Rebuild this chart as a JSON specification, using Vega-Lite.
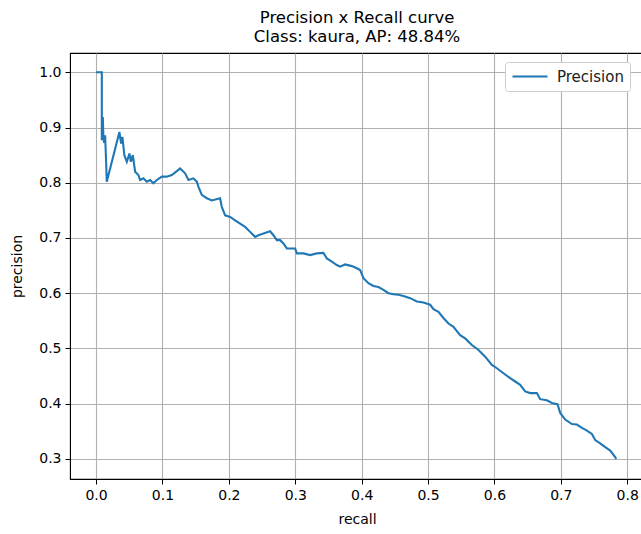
{
  "$schema": "https://vega.github.io/schema/vega-lite/v6.json",
  "autosize": "none",
  "width": 574,
  "height": 426,
  "padding": {"left": 70, "top": 53, "right": 0, "bottom": 55},
  "background": "white",
  "config": {
    "font": "DejaVu Sans",
    "view": {"stroke": "black", "strokeWidth": 1.1},
    "axis": {
      "domainColor": "black",
      "tickColor": "black",
      "tickSize": 5,
      "labelColor": "black",
      "labelFontSize": 14,
      "titleFontSize": 14,
      "titleFontWeight": "normal",
      "titleColor": "black",
      "gridColor": "#b0b0b0",
      "gridWidth": 1.1,
      "labelPadding": 4
    }
  },
  "title": {
    "text": ["Precision x Recall curve", "Class: kaura, AP: 48.84%"],
    "fontSize": 16.5,
    "fontWeight": "normal",
    "color": "black",
    "anchor": "middle",
    "offset": 8,
    "lineHeight": 19
  },
  "data": {
    "values": [
      {"i": 1, "recall": 0.0, "precision": 1.0, "s": "Precision"},
      {"i": 2, "recall": 0.0086, "precision": 1.0, "s": "Precision"},
      {"i": 3, "recall": 0.0086, "precision": 0.877, "s": "Precision"},
      {"i": 4, "recall": 0.0101, "precision": 0.919, "s": "Precision"},
      {"i": 5, "recall": 0.011, "precision": 0.883, "s": "Precision"},
      {"i": 6, "recall": 0.0121, "precision": 0.872, "s": "Precision"},
      {"i": 7, "recall": 0.0136, "precision": 0.886, "s": "Precision"},
      {"i": 8, "recall": 0.0151, "precision": 0.838, "s": "Precision"},
      {"i": 9, "recall": 0.0161, "precision": 0.802, "s": "Precision"},
      {"i": 10, "recall": 0.0351, "precision": 0.892, "s": "Precision"},
      {"i": 11, "recall": 0.0377, "precision": 0.871, "s": "Precision"},
      {"i": 12, "recall": 0.0396, "precision": 0.883, "s": "Precision"},
      {"i": 13, "recall": 0.0426, "precision": 0.85, "s": "Precision"},
      {"i": 14, "recall": 0.0463, "precision": 0.838, "s": "Precision"},
      {"i": 15, "recall": 0.0502, "precision": 0.853, "s": "Precision"},
      {"i": 16, "recall": 0.0523, "precision": 0.838, "s": "Precision"},
      {"i": 17, "recall": 0.0553, "precision": 0.85, "s": "Precision"},
      {"i": 18, "recall": 0.0588, "precision": 0.82, "s": "Precision"},
      {"i": 19, "recall": 0.0637, "precision": 0.814, "s": "Precision"},
      {"i": 20, "recall": 0.0663, "precision": 0.805, "s": "Precision"},
      {"i": 21, "recall": 0.0713, "precision": 0.808, "s": "Precision"},
      {"i": 22, "recall": 0.0764, "precision": 0.802, "s": "Precision"},
      {"i": 23, "recall": 0.0814, "precision": 0.805, "s": "Precision"},
      {"i": 24, "recall": 0.0863, "precision": 0.799, "s": "Precision"},
      {"i": 25, "recall": 0.0915, "precision": 0.805, "s": "Precision"},
      {"i": 26, "recall": 0.099, "precision": 0.811, "s": "Precision"},
      {"i": 27, "recall": 0.1065, "precision": 0.811, "s": "Precision"},
      {"i": 28, "recall": 0.114, "precision": 0.814, "s": "Precision"},
      {"i": 29, "recall": 0.1216, "precision": 0.821, "s": "Precision"},
      {"i": 30, "recall": 0.1266, "precision": 0.826, "s": "Precision"},
      {"i": 31, "recall": 0.1341, "precision": 0.817, "s": "Precision"},
      {"i": 32, "recall": 0.1391, "precision": 0.805, "s": "Precision"},
      {"i": 33, "recall": 0.1466, "precision": 0.808, "s": "Precision"},
      {"i": 34, "recall": 0.1517, "precision": 0.802, "s": "Precision"},
      {"i": 35, "recall": 0.1541, "precision": 0.793, "s": "Precision"},
      {"i": 36, "recall": 0.1592, "precision": 0.778, "s": "Precision"},
      {"i": 37, "recall": 0.1668, "precision": 0.772, "s": "Precision"},
      {"i": 38, "recall": 0.1743, "precision": 0.768, "s": "Precision"},
      {"i": 39, "recall": 0.1868, "precision": 0.772, "s": "Precision"},
      {"i": 40, "recall": 0.1894, "precision": 0.756, "s": "Precision"},
      {"i": 41, "recall": 0.1944, "precision": 0.741, "s": "Precision"},
      {"i": 42, "recall": 0.2019, "precision": 0.738, "s": "Precision"},
      {"i": 43, "recall": 0.2094, "precision": 0.732, "s": "Precision"},
      {"i": 44, "recall": 0.2169, "precision": 0.726, "s": "Precision"},
      {"i": 45, "recall": 0.2245, "precision": 0.72, "s": "Precision"},
      {"i": 46, "recall": 0.232, "precision": 0.711, "s": "Precision"},
      {"i": 47, "recall": 0.2395, "precision": 0.702, "s": "Precision"},
      {"i": 48, "recall": 0.2445, "precision": 0.705, "s": "Precision"},
      {"i": 49, "recall": 0.2521, "precision": 0.708, "s": "Precision"},
      {"i": 50, "recall": 0.2621, "precision": 0.712, "s": "Precision"},
      {"i": 51, "recall": 0.2671, "precision": 0.705, "s": "Precision"},
      {"i": 52, "recall": 0.2722, "precision": 0.696, "s": "Precision"},
      {"i": 53, "recall": 0.2772, "precision": 0.696, "s": "Precision"},
      {"i": 54, "recall": 0.2822, "precision": 0.69, "s": "Precision"},
      {"i": 55, "recall": 0.2873, "precision": 0.681, "s": "Precision"},
      {"i": 56, "recall": 0.2998, "precision": 0.681, "s": "Precision"},
      {"i": 57, "recall": 0.3024, "precision": 0.672, "s": "Precision"},
      {"i": 58, "recall": 0.3123, "precision": 0.672, "s": "Precision"},
      {"i": 59, "recall": 0.3224, "precision": 0.669, "s": "Precision"},
      {"i": 60, "recall": 0.3325, "precision": 0.672, "s": "Precision"},
      {"i": 61, "recall": 0.3424, "precision": 0.673, "s": "Precision"},
      {"i": 62, "recall": 0.3476, "precision": 0.663, "s": "Precision"},
      {"i": 63, "recall": 0.3551, "precision": 0.657, "s": "Precision"},
      {"i": 64, "recall": 0.3626, "precision": 0.651, "s": "Precision"},
      {"i": 65, "recall": 0.3676, "precision": 0.648, "s": "Precision"},
      {"i": 66, "recall": 0.3751, "precision": 0.652, "s": "Precision"},
      {"i": 67, "recall": 0.3852, "precision": 0.649, "s": "Precision"},
      {"i": 68, "recall": 0.3928, "precision": 0.645, "s": "Precision"},
      {"i": 69, "recall": 0.3977, "precision": 0.642, "s": "Precision"},
      {"i": 70, "recall": 0.4027, "precision": 0.627, "s": "Precision"},
      {"i": 71, "recall": 0.4102, "precision": 0.618, "s": "Precision"},
      {"i": 72, "recall": 0.4178, "precision": 0.613, "s": "Precision"},
      {"i": 73, "recall": 0.4253, "precision": 0.611, "s": "Precision"},
      {"i": 74, "recall": 0.4328, "precision": 0.606, "s": "Precision"},
      {"i": 75, "recall": 0.4404, "precision": 0.6, "s": "Precision"},
      {"i": 76, "recall": 0.4479, "precision": 0.598, "s": "Precision"},
      {"i": 77, "recall": 0.4554, "precision": 0.597, "s": "Precision"},
      {"i": 78, "recall": 0.463, "precision": 0.595, "s": "Precision"},
      {"i": 79, "recall": 0.4731, "precision": 0.591, "s": "Precision"},
      {"i": 80, "recall": 0.4832, "precision": 0.585, "s": "Precision"},
      {"i": 81, "recall": 0.4931, "precision": 0.583, "s": "Precision"},
      {"i": 82, "recall": 0.5032, "precision": 0.579, "s": "Precision"},
      {"i": 83, "recall": 0.5082, "precision": 0.571, "s": "Precision"},
      {"i": 84, "recall": 0.5157, "precision": 0.566, "s": "Precision"},
      {"i": 85, "recall": 0.5232, "precision": 0.555, "s": "Precision"},
      {"i": 86, "recall": 0.5308, "precision": 0.545, "s": "Precision"},
      {"i": 87, "recall": 0.5383, "precision": 0.539, "s": "Precision"},
      {"i": 88, "recall": 0.5484, "precision": 0.524, "s": "Precision"},
      {"i": 89, "recall": 0.5559, "precision": 0.518, "s": "Precision"},
      {"i": 90, "recall": 0.566, "precision": 0.506, "s": "Precision"},
      {"i": 91, "recall": 0.576, "precision": 0.497, "s": "Precision"},
      {"i": 92, "recall": 0.5861, "precision": 0.485, "s": "Precision"},
      {"i": 93, "recall": 0.5962, "precision": 0.47, "s": "Precision"},
      {"i": 94, "recall": 0.6037, "precision": 0.464, "s": "Precision"},
      {"i": 95, "recall": 0.6136, "precision": 0.455, "s": "Precision"},
      {"i": 96, "recall": 0.6237, "precision": 0.446, "s": "Precision"},
      {"i": 97, "recall": 0.6313, "precision": 0.44, "s": "Precision"},
      {"i": 98, "recall": 0.6388, "precision": 0.434, "s": "Precision"},
      {"i": 99, "recall": 0.6463, "precision": 0.422, "s": "Precision"},
      {"i": 100, "recall": 0.6539, "precision": 0.419, "s": "Precision"},
      {"i": 101, "recall": 0.6639, "precision": 0.419, "s": "Precision"},
      {"i": 102, "recall": 0.6689, "precision": 0.408, "s": "Precision"},
      {"i": 103, "recall": 0.679, "precision": 0.406, "s": "Precision"},
      {"i": 104, "recall": 0.6866, "precision": 0.401, "s": "Precision"},
      {"i": 105, "recall": 0.695, "precision": 0.399, "s": "Precision"},
      {"i": 106, "recall": 0.6991, "precision": 0.383, "s": "Precision"},
      {"i": 107, "recall": 0.7066, "precision": 0.371, "s": "Precision"},
      {"i": 108, "recall": 0.7167, "precision": 0.363, "s": "Precision"},
      {"i": 109, "recall": 0.7242, "precision": 0.362, "s": "Precision"},
      {"i": 110, "recall": 0.7318, "precision": 0.356, "s": "Precision"},
      {"i": 111, "recall": 0.7393, "precision": 0.351, "s": "Precision"},
      {"i": 112, "recall": 0.7468, "precision": 0.345, "s": "Precision"},
      {"i": 113, "recall": 0.7518, "precision": 0.334, "s": "Precision"},
      {"i": 114, "recall": 0.7593, "precision": 0.328, "s": "Precision"},
      {"i": 115, "recall": 0.7669, "precision": 0.321, "s": "Precision"},
      {"i": 116, "recall": 0.7744, "precision": 0.315, "s": "Precision"},
      {"i": 117, "recall": 0.7819, "precision": 0.303, "s": "Precision"},
      {"i": 118, "recall": 0.7834, "precision": 0.2995, "s": "Precision"}
    ]
  },
  "mark": {"type": "line", "strokeWidth": 2.1, "clip": true},
  "encoding": {
    "x": {
      "field": "recall",
      "type": "quantitative",
      "title": "recall",
      "scale": {"domain": [-0.0393, 0.8253], "nice": false, "zero": false},
      "axis": {"values": [0, 0.1, 0.2, 0.3, 0.4, 0.5, 0.6, 0.7, 0.8], "format": ".1f", "titlePadding": 10}
    },
    "y": {
      "field": "precision",
      "type": "quantitative",
      "title": "precision",
      "scale": {"domain": [0.2634, 1.035], "nice": false, "zero": false},
      "axis": {"values": [0.3, 0.4, 0.5, 0.6, 0.7, 0.8, 0.9, 1.0], "format": ".1f", "titlePadding": 14}
    },
    "order": {"field": "i", "type": "quantitative"},
    "color": {
      "field": "s",
      "type": "nominal",
      "scale": {"domain": ["Precision"], "range": ["#1f77b4"]},
      "legend": {
        "title": null,
        "orient": "none",
        "legendX": 435,
        "legendY": 9,
        "symbolType": "stroke",
        "symbolSize": 1225,
        "symbolStrokeWidth": 2.1,
        "clipHeight": 17,
        "labelFontSize": 15,
        "labelColor": "#222222",
        "labelOffset": 8,
        "padding": 6,
        "strokeColor": "#cccccc",
        "fillColor": "white",
        "cornerRadius": 3
      }
    }
  }
}
